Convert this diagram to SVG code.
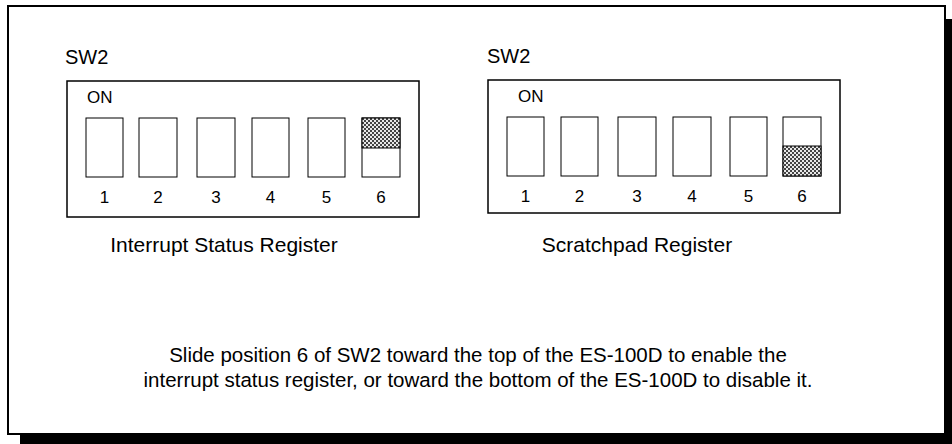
<svg xmlns="http://www.w3.org/2000/svg" width="952" height="444" viewBox="0 0 952 444">
<style>
text{font-family:"Liberation Sans",Arial,sans-serif;fill:#000}
.lbl{font-size:20px}
.cap{font-size:21px;text-anchor:middle}
.note{font-size:20.5px;text-anchor:middle}
.sm{font-size:17px}
.num{font-size:17px;text-anchor:middle}
.box{fill:#fff;stroke:#000;stroke-width:1.5}
.sw{fill:#fff;stroke:#000;stroke-width:1}
.hatch{fill:url(#chk);stroke:#000;stroke-width:1}
</style>
<defs>
<pattern id="chk" width="4" height="4" patternUnits="userSpaceOnUse">
<rect width="4" height="4" fill="#e8e8e8"/>
<rect x="0" y="0" width="2" height="2" fill="#444"/>
<rect x="2" y="2" width="2" height="2" fill="#444"/>
</pattern>
</defs>
<rect x="0" y="0" width="952" height="444" fill="#fff"/>
<rect x="20" y="19" width="932" height="425" fill="#000"/>
<rect x="8" y="6" width="937" height="428" fill="#fff" stroke="#000" stroke-width="2"/>

<g id="left-switch">
<text class="lbl" x="65" y="64">SW2</text>
<rect class="box" x="67" y="81" width="352" height="136"/>
<text class="sm" x="87" y="103">ON</text>
<rect class="sw" x="86" y="118" width="37" height="59"/>
<rect class="sw" x="139" y="118" width="38" height="59"/>
<rect class="sw" x="197" y="118" width="38" height="59"/>
<rect class="sw" x="252" y="118" width="37" height="59"/>
<rect class="sw" x="308" y="118" width="37" height="59"/>
<rect class="sw" x="362" y="118" width="38" height="59"/>
<rect class="hatch" x="362" y="118" width="38" height="30"/>
<text class="num" x="104.5" y="203">1</text>
<text class="num" x="158" y="203">2</text>
<text class="num" x="216" y="203">3</text>
<text class="num" x="270.5" y="203">4</text>
<text class="num" x="326.5" y="203">5</text>
<text class="num" x="381" y="203">6</text>
<text class="cap" x="224" y="252">Interrupt Status Register</text>
</g>

<g id="right-switch">
<text class="lbl" x="487" y="63">SW2</text>
<rect class="box" x="488" y="80" width="352" height="133"/>
<text class="sm" x="518" y="102">ON</text>
<rect class="sw" x="507" y="117" width="37" height="59"/>
<rect class="sw" x="561" y="117" width="37" height="59"/>
<rect class="sw" x="618" y="117" width="38" height="59"/>
<rect class="sw" x="673" y="117" width="38" height="59"/>
<rect class="sw" x="730" y="117" width="37" height="59"/>
<rect class="sw" x="783" y="117" width="38" height="59"/>
<rect class="hatch" x="783" y="146" width="38" height="30"/>
<text class="num" x="525.5" y="202">1</text>
<text class="num" x="579.5" y="202">2</text>
<text class="num" x="637" y="202">3</text>
<text class="num" x="692" y="202">4</text>
<text class="num" x="748.5" y="202">5</text>
<text class="num" x="802" y="202">6</text>
<text class="cap" x="637" y="252">Scratchpad Register</text>
</g>

<g id="note">
<text class="note" x="478" y="362">Slide position 6 of SW2 toward the top of the ES-100D to enable the</text>
<text class="note" x="478" y="387">interrupt status register, or toward the bottom of the ES-100D to disable it.</text>
</g>
</svg>
